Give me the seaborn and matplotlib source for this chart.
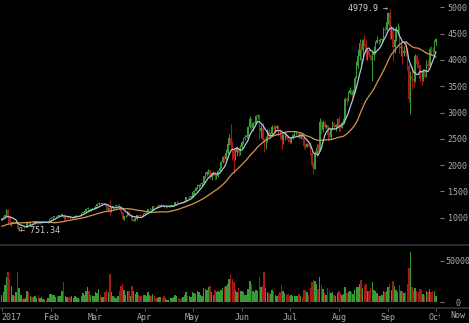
import numpy as np
import pandas as pd
import matplotlib
matplotlib.use("Agg")
import matplotlib.pyplot as plt
from matplotlib.lines import Line2D
from matplotlib.patches import Rectangle
import seaborn as sns

# ---------------- data (daily BTC/USD, Jan 1 - Oct 1 2017) ----------------
close_dec2016 = [752, 772, 765, 768, 759, 762, 768, 770, 772, 774, 770, 780, 781, 778, 780, 785,
                 790, 791, 793, 799, 832, 864, 921, 898, 896, 907, 933, 975, 973, 961, 963]

close_jan = [998, 1021, 1044, 1154, 1013, 903, 908, 911, 902, 908, 778, 806, 826, 818, 822, 831, 907, 873,
             896, 891, 921, 924, 926, 892, 894, 915, 918, 920, 914, 921, 970]
high_jan = [1003, 1032, 1047, 1160, 1158, 1028, 918, 937, 911, 913, 911, 826, 832, 829, 824, 833, 908, 911,
            899, 898, 925, 936, 929, 928, 900, 917, 923, 923, 921, 924, 972]
low_jan = [960, 990, 1015, 1040, 882, 859, 835, 898, 889, 902, 765, 751.34, 790, 813, 810, 818, 828, 870,
           870, 879, 890, 876, 918, 885, 887, 893, 907, 914, 910, 908, 920]

close_feb = [989, 1011, 1030, 1039, 1027, 1046, 1054, 1054, 988, 1004, 1011, 1000, 996, 1010, 1010, 1033,
             1049, 1054, 1047, 1080, 1115, 1117, 1167, 1173, 1143, 1165, 1180, 1180]
high_feb = [1000, 1018, 1034, 1041, 1043, 1049, 1058, 1075, 1078, 1008, 1016, 1013, 1005, 1014, 1013, 1033,
            1054, 1058, 1057, 1082, 1116, 1130, 1170, 1205, 1174, 1167, 1183, 1198]
low_feb = [966, 984, 1007, 1020, 1014, 1024, 1040, 1049, 946, 975, 989, 996, 981, 995, 1000, 1008,
           1031, 1045, 1038, 1044, 1080, 1096, 1116, 1135, 1130, 1120, 1160, 1170]

close_mar = [1222, 1251, 1284, 1265, 1272, 1275, 1233, 1150, 1188, 1117, 1175, 1221, 1231, 1240, 1250, 1187,
             1100, 973, 1023, 1039, 1115, 1040, 1043, 934, 964, 966, 1045, 1044, 1040, 1035, 1079]
high_mar = [1222, 1262, 1290, 1280, 1276, 1277, 1277, 1236, 1198, 1330, 1190, 1229, 1243, 1247, 1255, 1256,
            1190, 1102, 1041, 1048, 1121, 1123, 1057, 1046, 991, 1008, 1045, 1060, 1049, 1046, 1088]
low_mar = [1178, 1213, 1248, 1251, 1254, 1265, 1225, 1143, 1150, 1060, 1117, 1169, 1224, 1238, 1234, 1159,
           1074, 960, 950, 1007, 1037, 1036, 1038, 936, 930, 931, 960, 1020, 1015, 1018, 1034]

close_apr = [1090, 1110, 1160, 1160, 1150, 1215, 1210, 1200, 1225, 1225, 1245, 1240, 1200, 1205, 1205, 1210,
             1230, 1235, 1245, 1290, 1300, 1295, 1290, 1285, 1300, 1325, 1390, 1385, 1400, 1400]
high_apr = [1095, 1120, 1170, 1175, 1165, 1225, 1225, 1215, 1230, 1235, 1255, 1250, 1245, 1215, 1215, 1220,
            1235, 1240, 1250, 1295, 1310, 1305, 1300, 1295, 1305, 1330, 1395, 1400, 1410, 1415]
low_apr = [1065, 1080, 1105, 1140, 1140, 1148, 1195, 1190, 1195, 1215, 1220, 1230, 1190, 1185, 1195, 1195,
           1205, 1225, 1230, 1240, 1280, 1280, 1275, 1270, 1280, 1295, 1320, 1360, 1375, 1380]

close_may = [1480, 1510, 1560, 1600, 1620, 1650, 1660, 1790, 1830, 1860, 1900, 1780, 1850, 1860, 1790, 1790,
             1890, 1950, 2050, 2150, 2120, 2230, 2400, 2520, 2390, 2300, 2120, 2250, 2330, 2230, 2350]
high_may = [1490, 1525, 1575, 1640, 1640, 1665, 1675, 1800, 1860, 1880, 1930, 1910, 1860, 1880, 1865, 1830,
            1900, 1960, 2070, 2180, 2200, 2300, 2420, 2600, 2780, 2450, 2320, 2300, 2360, 2340, 2380]
low_may = [1390, 1460, 1500, 1540, 1560, 1600, 1600, 1650, 1760, 1800, 1840, 1740, 1720, 1820, 1720, 1740,
           1780, 1880, 1950, 2040, 2060, 2100, 2220, 2380, 2300, 2100, 1855, 2100, 2180, 2180, 2200]

close_jun = [2440, 2510, 2540, 2570, 2720, 2880, 2700, 2800, 2820, 2940, 2960, 2650, 2700, 2480, 2450, 2500,
             2650, 2540, 2590, 2720, 2680, 2700, 2740, 2590, 2580, 2470, 2570, 2580, 2540, 2480]
high_jun = [2460, 2520, 2580, 2600, 2740, 2930, 2890, 2810, 2880, 2960, 2980, 2960, 2760, 2800, 2520, 2550,
            2680, 2700, 2620, 2760, 2780, 2740, 2760, 2760, 2680, 2620, 2590, 2620, 2600, 2580]
low_jun = [2300, 2400, 2470, 2510, 2560, 2700, 2660, 2650, 2780, 2800, 2880, 2500, 2520, 2430, 2250, 2300,
           2440, 2500, 2510, 2580, 2600, 2640, 2690, 2560, 2500, 2300, 2400, 2480, 2510, 2440]

close_jul = [2430, 2510, 2570, 2610, 2610, 2610, 2520, 2570, 2520, 2370, 2340, 2400, 2360, 2230, 2000, 1930,
             2230, 2320, 2270, 2820, 2670, 2810, 2730, 2760, 2580, 2530, 2670, 2800, 2720, 2760, 2870]
high_jul = [2500, 2530, 2600, 2640, 2630, 2630, 2620, 2580, 2580, 2530, 2420, 2420, 2440, 2380, 2240, 2050,
            2260, 2400, 2400, 2900, 2850, 2860, 2840, 2790, 2770, 2620, 2700, 2840, 2820, 2780, 2890]
low_jul = [2400, 2420, 2500, 2560, 2570, 2570, 2500, 2500, 2500, 2330, 2280, 2340, 2340, 2200, 1970, 1840,
           1920, 2180, 2240, 2260, 2600, 2620, 2680, 2700, 2480, 2480, 2500, 2660, 2680, 2650, 2730]

close_aug = [2720, 2710, 2800, 2880, 3250, 3220, 3380, 3420, 3340, 3390, 3650, 3880, 4070, 4320, 4180, 4370,
             4300, 4120, 4190, 4090, 4000, 4100, 4150, 4330, 4370, 4350, 4380, 4390, 4580, 4570, 4720]
high_aug = [2930, 2760, 2830, 2920, 3300, 3290, 3400, 3490, 3420, 3440, 3700, 3980, 4200, 4400, 4330, 4400,
            4480, 4380, 4200, 4190, 4100, 4160, 4260, 4360, 4460, 4380, 4410, 4400, 4630, 4640, 4750]
low_aug = [2630, 2650, 2700, 2800, 2880, 3150, 3220, 3350, 3270, 3330, 3380, 3650, 3850, 4000, 3950, 4000,
           4270, 4000, 4000, 4050, 3990, 3600, 4000, 4110, 4320, 4300, 4330, 4340, 4360, 4520, 4560]

close_sep = [4890, 4580, 4590, 4240, 4380, 4600, 4600, 4230, 4230, 4130, 4160, 4130, 3880, 3250, 3700, 3640,
             3590, 4070, 3920, 3900, 3640, 3630, 3790, 3680, 3930, 3890, 4200, 4180, 4170, 4340]
high_sep = [4920, 4979.9, 4650, 4620, 4420, 4650, 4700, 4650, 4320, 4290, 4260, 4370, 4160, 3920, 3780, 3880,
            3800, 4120, 4120, 4010, 3900, 3760, 3830, 3800, 3990, 4000, 4250, 4270, 4240, 4370]
low_sep = [4680, 4400, 4390, 3980, 4140, 4360, 4550, 4130, 4080, 3930, 4080, 4070, 3800, 3200, 2980, 3450,
           3480, 3580, 3860, 3850, 3600, 3520, 3600, 3650, 3680, 3850, 3900, 4100, 4090, 4150]

close_oct = [4390]
high_oct = [4420]
low_oct = [4290]

vol_jan = [9000, 12000, 21000, 30000, 37000, 28000, 20000, 9000, 8000, 12000, 37000, 17000, 9000, 5000, 4000,
           5000, 13000, 12000, 7000, 6000, 6000, 7000, 5000, 9000, 5000, 6000, 4000, 3000, 3000, 5000, 10000]
vol_feb = [10000, 9000, 9000, 6000, 7000, 8000, 8000, 13000, 25000, 8000, 6000, 5000, 6000, 7000, 5000, 8000,
           6000, 5000, 4000, 8000, 11000, 9000, 14000, 19000, 13000, 9000, 7000, 8000]
vol_mar = [12000, 11000, 16000, 9000, 6000, 6000, 12000, 15000, 12000, 33600, 12000, 7000, 6000, 5000, 7000,
           14000, 20000, 22000, 15000, 9000, 14000, 13000, 8000, 20000, 13000, 10000, 12000, 9000, 7000, 8000, 9000]
vol_apr = [9000, 7000, 12000, 9000, 8000, 10000, 7000, 5000, 5000, 6000, 6000, 5000, 7000, 5000, 3000, 3000,
           5000, 5000, 6000, 9000, 7000, 5000, 4000, 5000, 6000, 9000, 12000, 8000, 7000, 6000]
vol_may = [12000, 11000, 10000, 14000, 12000, 9000, 8000, 17000, 16000, 15000, 19000, 20000, 12000, 9000, 15000,
           12000, 14000, 12000, 15000, 17000, 18000, 20000, 22000, 28000, 33000, 28000, 24000, 15000, 12000,
           17000, 14000]
vol_jun = [14000, 12000, 9000, 9000, 16000, 26000, 22000, 14000, 12000, 15000, 13000, 30000, 18000, 20000, 36000,
           17000, 12000, 11000, 10000, 15000, 13000, 9000, 8000, 10000, 12000, 21000, 14000, 11000, 9000, 10000]
vol_jul = [8000, 9000, 8000, 7000, 8000, 7000, 10000, 8000, 6000, 15000, 15000, 12000, 9000, 17000, 25000, 27000,
           26000, 22000, 16000, 31000, 21000, 16000, 11000, 9000, 17000, 14000, 11000, 12000, 9000, 8000, 11000]
vol_aug = [14000, 11000, 9000, 10000, 18000, 11000, 12000, 14000, 12000, 10000, 15000, 18000, 19000, 22000,
           27000, 17000, 20000, 22000, 14000, 13000, 17000, 24000, 15000, 13000, 11000, 8000, 7000, 9000, 14000,
           12000, 13000]
vol_sep = [18000, 22000, 15000, 26000, 20000, 15000, 12000, 21000, 13000, 14000, 11000, 12000, 22000, 41000,
           60800, 18000, 13000, 17000, 14000, 12000, 16000, 15000, 10000, 9000, 13000, 12000, 16000, 12000, 14000,
           13000]
vol_oct = [7000]

month_ticks = [0, 31, 59, 90, 120, 151, 181, 212, 243, 273]
month_labels = ["2017", "Feb", "Mar", "Apr", "May", "Jun", "Jul", "Aug", "Sep", "Oct"]
price_ticks = [1000, 1500, 2000, 2500, 3000, 3500, 4000, 4500, 5000]
vol_ticks = [0, 50000]
high_label = "4979.9 \u2192"
low_label = "\u2190 751.34"

# ---------------- assemble ----------------
close = np.array(close_jan + close_feb + close_mar + close_apr + close_may + close_jun + close_jul
                 + close_aug + close_sep + close_oct, float)
high = np.array(high_jan + high_feb + high_mar + high_apr + high_may + high_jun + high_jul
                + high_aug + high_sep + high_oct, float)
low = np.array(low_jan + low_feb + low_mar + low_apr + low_may + low_jun + low_jul
               + low_aug + low_sep + low_oct, float)
vol = np.array(vol_jan + vol_feb + vol_mar + vol_apr + vol_may + vol_jun + vol_jul
               + vol_aug + vol_sep + vol_oct, float)
n = len(close)
x = np.arange(n)
open_ = np.concatenate([[close_dec2016[-1]], close[:-1]])
high = np.maximum(high, np.maximum(open_, close))
low = np.minimum(low, np.minimum(open_, close))
up = close >= open_

full = pd.Series(close_dec2016 + list(close))
ma_fast = full.rolling(7).mean().iloc[len(close_dec2016):].to_numpy()
ma_slow = full.rolling(30).mean().iloc[len(close_dec2016):].to_numpy()
df = pd.DataFrame({"day": x, "fast": ma_fast, "slow": ma_slow})

GREEN = "#379a32"
RED = "#a51a18"
BLUE = "#a9cbe0"
ORANGE = "#d2964f"
TXT = "#ababab"
colors = np.where(up, GREEN, RED)

sns.set_theme(style="dark")
plt.rcParams["font.family"] = ["DejaVu Sans Mono", "DejaVu Sans"]

W, H = 469, 323
fig = plt.figure(figsize=(W / 100, H / 100), dpi=100, facecolor="black")
ax = fig.add_axes([0, 1 - 244 / H, 440 / W, 244 / H])
axv = fig.add_axes([0, 1 - 307.5 / H, 440 / W, (307.5 - 246) / H])

for a in (ax, axv):
    a.set_facecolor("black")
    a.grid(False)
    for s in a.spines.values():
        s.set_visible(False)

# candles
ax.vlines(x, low, high, colors=colors, lw=0.75, zorder=2)
body_h = np.maximum(np.abs(close - open_), 8)
ax.bar(x, body_h, bottom=np.minimum(open_, close), width=0.9, color=colors, linewidth=0, zorder=3)

# moving averages
sns.lineplot(data=df, x="day", y="slow", ax=ax, color=ORANGE, lw=0.9, zorder=4)
sns.lineplot(data=df, x="day", y="fast", ax=ax, color=BLUE, lw=0.9, zorder=5)

ax.set_xlim(-1.07, 275.6)
ax.set_ylim(500, 5139)
ax.set_xticks([])
ax.set_xlabel("")
ax.set_ylabel("")
ax.yaxis.tick_right()
ax.set_yticks(price_ticks)
ax.set_yticklabels([str(v) for v in price_ticks])
ax.tick_params(axis="y", which="major", right=True, left=False, length=3, width=0.8,
               color="#777777", labelcolor=TXT, labelsize=6, pad=9.6)
for t in ax.yaxis.get_major_ticks():
    t.label2.set_ha("center")

# annotations of extremes
i_hi = int(np.argmax(high))
i_lo = int(np.argmin(low))
ax.text(i_hi - 1.2, high[i_hi], high_label, ha="right", va="center", fontsize=6, color="#d0d0d0", zorder=6)
ax.text(i_lo + 0.6, low[i_lo], low_label, ha="left", va="center", fontsize=6, color="#d0d0d0", zorder=6)

# volume
axv.bar(x, vol, width=0.9, color=colors, linewidth=0)
axv.set_xlim(-1.07, 275.6)
axv.set_ylim(-6250, 67700)
axv.set_xlabel("")
axv.set_ylabel("")
axv.yaxis.tick_right()
axv.set_yticks(vol_ticks)
axv.set_yticklabels([str(v) for v in vol_ticks])
axv.tick_params(axis="y", which="major", right=True, left=False, length=3, width=0.8,
                color="#777777", labelcolor=TXT, labelsize=6, pad=9.6)
for t in axv.yaxis.get_major_ticks():
    t.label2.set_ha("center")
axv.set_xticks(month_ticks)
axv.set_xticklabels(month_labels)
axv.tick_params(axis="x", which="major", bottom=True, length=2, width=0.8, color="#555555",
                labelcolor=TXT, labelsize=6, pad=2)
axv.get_xticklabels()[0].set_ha("left")

# "Now" label (its black box hides the end of "Oct") and separators
fig.add_artist(Rectangle((440 / W, 0), 1 - 440 / W, 1 - 309.5 / H, transform=fig.transFigure,
                         facecolor="black", edgecolor="none", zorder=5))
fig.text(458 / W, 1 - 315.5 / H, "Now", ha="center", va="center", fontsize=6, color=TXT, zorder=6)
for yy in (245, 308):
    fig.add_artist(Line2D([0, 1], [1 - yy / H, 1 - yy / H], transform=fig.transFigure,
                          color="#303030", lw=1.3, zorder=6))

fig.savefig("out.png", dpi=100, facecolor="black")
